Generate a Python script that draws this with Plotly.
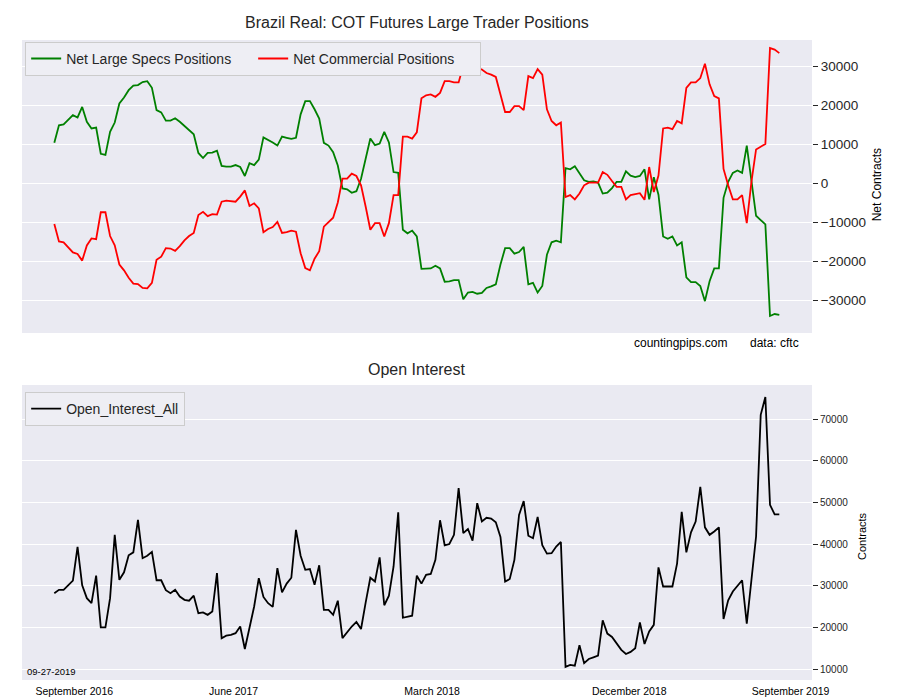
import pandas as pd
import plotly.graph_objects as go

# ---------------- data ----------------
dates = pd.date_range("2016-09-27", periods=157, freq="7D")

net_specs = [
    10300, 14800, 15000, 16200, 17400, 16800, 19500, 15700, 14000, 14200,
    7500, 7200, 13100, 15500, 20400, 21900, 23800, 25000, 25100, 25900,
    26100, 24400, 18700, 18100, 16000, 16000, 16600, 15700, 14700, 13600,
    12500, 7700, 6400, 7700, 7800, 8300, 4400, 4200, 4200, 4600,
    4100, 1800, 5100, 4600, 6000, 11700, 11100, 10400, 9600, 11900,
    11600, 11300, 11600, 17600, 21000, 21000, 18900, 16500, 10300, 9600,
    7900, 4500, -1400, -1600, -2500, -2100, 1100, 6200, 11400, 9700,
    10100, 13100, 10400, 2800, 2600, -12000, -12900, -12200, -13700, -22000,
    -21900, -21900, -21200, -21900, -25300, -25200, -24900, -24900, -29800, -28100,
    -27900, -28400, -28200, -26900, -26500, -26000, -20900, -16700, -16700, -18100,
    -17700, -16400, -26000, -25600, -28100, -26400, -18400, -15200, -14800, -15200,
    3800, 3500, 4300, 2400, 700, 300, 400, 100, -2700, -2500,
    -1300, 300, 300, 3000, 1900, 1500, 1800, 3500, -4200, 1500,
    -3000, -13700, -14300, -13700, -16000, -15200, -24200, -25400, -25400, -26400,
    -30300, -25200, -21900, -21900, -3800, 300, 2600, 3200, 2600, 9600,
    1100, -8400, -9500, -10600, -34100, -33600, -33800,
]

net_commercial = [
    -10500, -15000, -15200, -16500, -17800, -18200, -19900, -16000, -14200, -14400,
    -7500, -7500, -13600, -16000, -20900, -22400, -24300, -25800, -25900, -26900,
    -27000, -25600, -19700, -18900, -16700, -16800, -17400, -16200, -14700, -13600,
    -12800, -8200, -7400, -8500, -8000, -8100, -4800, -4500, -4600, -4800,
    -3500, -1900, -5900, -5200, -6500, -12600, -11800, -11300, -10000, -12800,
    -12600, -12200, -12500, -18000, -21800, -22400, -19400, -17500, -11200, -10100,
    -8900, -5000, 1100, 1100, 2400, 1800, -600, -6100, -12000, -10300,
    -10300, -13700, -10300, -3100, -3100, 11900, 11900, 11400, 13000, 21700,
    22500, 22700, 22100, 23100, 26100, 26100, 25800, 25800, 30100, 29200,
    29400, 29500, 29100, 28200, 27800, 27200, 22700, 18200, 18200, 19700,
    19700, 18700, 27400, 26900, 29200, 27800, 18900, 15900, 14800, 15500,
    -3600, -3100, -4200, -2700, -600, 100, 100, 100, 2800, 2100,
    500, -1000, -1000, -4200, -3100, -2800, -2600, -4300, 4100, -2300,
    1900, 14000, 14200, 13800, 15900, 15300, 24400, 25800, 25800, 26900,
    30600, 25300, 22300, 21700, 3600, -600, -4200, -4200, -3100, -10300,
    300, 8600, 9200, 10000, 34600, 34200, 33300,
]

open_interest = [
    28200, 29000, 29000, 30100, 31200, 39300, 30100, 27000, 25800, 32400,
    20000, 20000, 27000, 42200, 31400, 33200, 37300, 38000, 45800, 36600,
    37200, 38100, 31300, 31300, 28900, 28200, 29000, 27400, 26600, 26400,
    27600, 23400, 23600, 23000, 23800, 33000, 17400, 18000, 18200, 18600,
    20200, 14800, 20200, 25000, 31800, 27300, 25800, 24900, 34200, 28400,
    30500, 31900, 43400, 37200, 33800, 34000, 30200, 34900, 24200, 24200,
    23000, 26400, 17400, 18800, 20200, 21300, 19600, 26000, 31900, 31000,
    36800, 25300, 27600, 34600, 47600, 22300, 22600, 22800, 32400, 30500,
    32600, 32800, 36200, 45700, 39700, 40000, 42200, 53400, 42600, 43600,
    40800, 49800, 45400, 46300, 46100, 45200, 41700, 31000, 31600, 36200,
    47000, 50300, 42000, 41400, 46500, 39700, 37700, 37800, 39400, 40500,
    10500, 11000, 10800, 15700, 11400, 12400, 12800, 13200, 21700, 18500,
    17700, 16200, 14600, 13600, 14100, 15000, 21200, 16000, 19000, 20600,
    34400, 29800, 29800, 29800, 35300, 47700, 38000, 42800, 45400, 53700,
    44000, 42200, 43000, 44000, 22000, 26500, 28600, 30000, 31300, 20900,
    31400, 41800, 71000, 75300, 49400, 47100, 47100,
]

tick_dates = ["2016-10-27", "2017-06-24", "2018-04-19", "2019-02-10", "2019-10-11"]
tick_labels = ["September 2016", "June 2017", "March 2018", "December 2018", "September 2019"]

net_ticks = [-30000, -20000, -10000, 0, 10000, 20000, 30000]
net_tick_labels = ["\u221230000", "\u221220000", "\u221210000", "0", "10000", "20000", "30000"]
oi_ticks = [10000, 20000, 30000, 40000, 50000, 60000, 70000]
oi_tick_labels = ["10000", "20000", "30000", "40000", "50000", "60000", "70000"]

# ---------------- figure ----------------
fig = go.Figure()
fig.add_trace(go.Scatter(x=dates, y=net_specs, mode="lines", name="Net Large Specs Positions",
                         line=dict(color="#008000", width=1.8), xaxis="x", yaxis="y", legend="legend"))
fig.add_trace(go.Scatter(x=dates, y=net_commercial, mode="lines", name="Net Commercial Positions",
                         line=dict(color="#FF0000", width=1.8), xaxis="x", yaxis="y", legend="legend"))
fig.add_trace(go.Scatter(x=dates, y=open_interest, mode="lines", name="Open_Interest_All",
                         line=dict(color="black", width=1.8), xaxis="x2", yaxis="y2", legend="legend2"))

xr = ["2016-08-09 08:00", "2019-11-12 06:00"]
dark = "#262626"
yax_common = dict(side="right", tickmode="array", automargin=False,
                  showgrid=True, gridcolor="white", gridwidth=1, zeroline=False, showline=False,
                  ticks="outside", ticklen=5, tickwidth=1, tickcolor=dark)

fig.update_layout(
    width=900, height=700,
    paper_bgcolor="white", plot_bgcolor="#EAEAF2",
    margin=dict(l=22, r=88, t=40, b=20, autoexpand=False),
    font=dict(family="Liberation Sans, Arial, sans-serif", color=dark),
    xaxis=dict(domain=[0, 1], anchor="y", type="date", range=xr, showgrid=False, zeroline=False,
               showticklabels=False, ticks="", automargin=False),
    yaxis=dict(domain=[0.5422, 1], anchor="x", range=[-38460, 36667],
               tickvals=net_ticks, ticktext=net_tick_labels,
               tickfont=dict(size=13.5, color=dark), **yax_common),
    xaxis2=dict(domain=[0, 1], anchor="y2", type="date", range=xr, showgrid=False, zeroline=False,
                tickmode="array", tickvals=tick_dates, ticktext=tick_labels, automargin=False,
                ticks="outside", ticklen=1, tickcolor="rgba(0,0,0,0)",
                tickfont=dict(size=10.5, color="black")),
    yaxis2=dict(domain=[0, 0.4609], anchor="x2", range=[7360, 78160],
                tickvals=oi_ticks, ticktext=oi_tick_labels,
                tickfont=dict(size=10, color=dark), **yax_common),
    showlegend=True,
    legend=dict(x=0.004, y=0.997, xanchor="left", yanchor="top", orientation="h",
                entrywidth=182,
                bgcolor="#EEEEF4", bordercolor="#CCCCCC", borderwidth=1,
                font=dict(size=14, color=dark)),
    legend2=dict(x=0.004, y=0.45, xanchor="left", yanchor="top", orientation="h",
                 bgcolor="#EEEEF4", bordercolor="#CCCCCC", borderwidth=1,
                 font=dict(size=14, color=dark)),
    annotations=[
        dict(text="Brazil Real: COT Futures Large Trader Positions", x=0.5, y=1.028,
             xref="paper", yref="paper", xanchor="center", yanchor="middle", showarrow=False,
             font=dict(size=16, color=dark)),
        dict(text="Open Interest", x=0.5, y=0.4844, xref="paper", yref="paper",
             xanchor="center", yanchor="middle", showarrow=False, font=dict(size=16, color=dark)),
        dict(text="Net Contracts", x=1.0823, y=0.773, xref="paper", yref="paper", textangle=-90,
             xanchor="center", yanchor="middle", showarrow=False, font=dict(size=12, color="black")),
        dict(text="Contracts", x=1.0633, y=0.225, xref="paper", yref="paper", textangle=-90,
             xanchor="center", yanchor="middle", showarrow=False, font=dict(size=11, color="black")),
        dict(text="countingpips.com", x=0.833, y=0.5266, xref="paper", yref="paper",
             xanchor="center", yanchor="middle", showarrow=False, font=dict(size=12, color="black")),
        dict(text="data: cftc", x=0.953, y=0.5266, xref="paper", yref="paper",
             xanchor="center", yanchor="middle", showarrow=False, font=dict(size=12, color="black")),
        dict(text="09-27-2019", x=0.0038, y=0.014, xref="paper", yref="paper",
             xanchor="left", yanchor="middle", showarrow=False, font=dict(size=9.5, color="black")),
    ],
)

fig.write_html("out.html")
